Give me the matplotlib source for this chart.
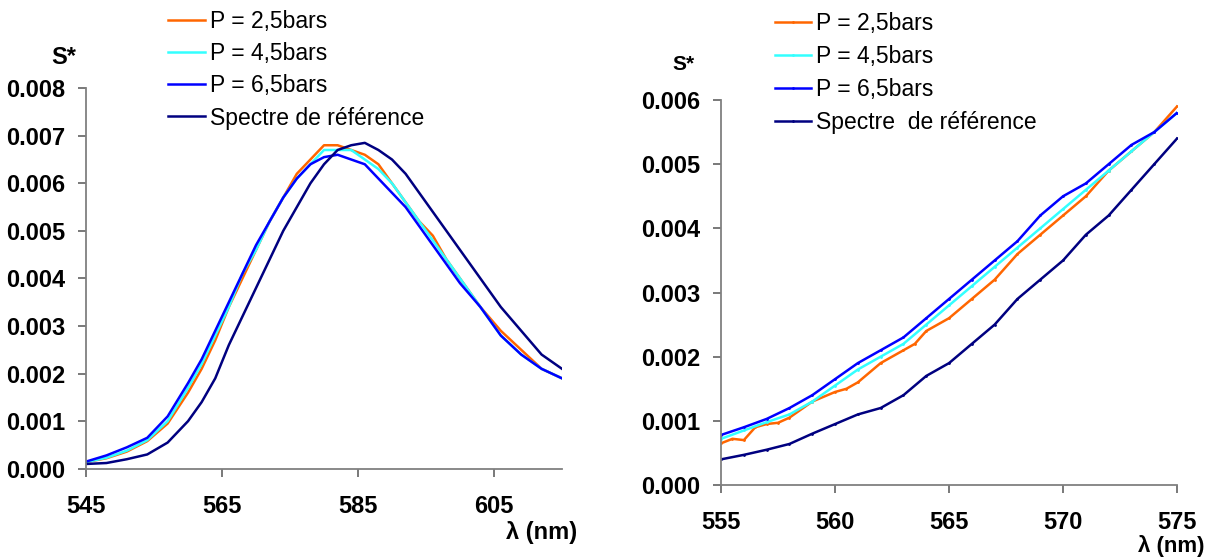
import matplotlib
matplotlib.use('Agg')
import matplotlib.pyplot as plt
from matplotlib.ticker import FormatStrFormatter

plt.rcParams['font.family'] = ['Liberation Sans', 'DejaVu Sans']

# courbe complète (graphe de gauche)
lam_g = [545, 548, 551, 554, 557, 560, 562, 564, 566, 568, 570, 572, 574, 576, 578, 580,
         582, 584, 586, 588, 590, 592, 594, 596, 598, 600, 603, 606, 609, 612, 615]
p25_g = [0.00014, 0.00022, 0.00036, 0.00058, 0.00095, 0.0016, 0.0021, 0.0027, 0.0034, 0.0040,
         0.0046, 0.0052, 0.0057, 0.0062, 0.0065, 0.0068, 0.0068, 0.0067, 0.0066, 0.0064,
         0.0060, 0.0056, 0.0052, 0.0049, 0.0044, 0.0040, 0.0034, 0.0029, 0.0025, 0.0021, 0.0019]
p45_g = [0.00014, 0.00023, 0.00038, 0.00060, 0.0010, 0.0017, 0.0022, 0.0028, 0.0034, 0.0041,
         0.0046, 0.0052, 0.0057, 0.0061, 0.0064, 0.0067, 0.0067, 0.0067, 0.0065, 0.0063,
         0.0060, 0.0056, 0.0052, 0.0048, 0.0044, 0.0040, 0.0034, 0.0028, 0.0024, 0.0021, 0.0019]
p65_g = [0.00015, 0.00028, 0.00045, 0.00065, 0.0011, 0.0018, 0.0023, 0.0029, 0.0035, 0.0041,
         0.0047, 0.0052, 0.0057, 0.0061, 0.0064, 0.00655, 0.0066, 0.0065, 0.0064, 0.0061,
         0.0058, 0.0055, 0.0051, 0.0047, 0.0043, 0.0039, 0.0034, 0.0028, 0.0024, 0.0021, 0.0019]
ref_g = [0.0001, 0.00012, 0.0002, 0.0003, 0.00055, 0.0010, 0.0014, 0.0019, 0.0026, 0.0032,
         0.0038, 0.0044, 0.0050, 0.0055, 0.0060, 0.0064, 0.0067, 0.0068, 0.00685, 0.0067,
         0.0065, 0.0062, 0.0058, 0.0054, 0.0050, 0.0046, 0.0040, 0.0034, 0.0029, 0.0024, 0.0021]

# zoom 555-575 nm (graphe de droite)
lam_d = [555, 556, 557, 558, 559, 560, 561, 562, 563, 564, 565, 566, 567, 568, 569, 570,
         571, 572, 573, 574, 575]
p25_lam = [555, 555.5, 556, 556.5, 557, 557.5, 558, 559, 560, 560.5, 561, 562, 563, 563.5,
           564, 565, 566, 567, 568, 569, 570, 571, 572, 573, 574, 575]
p25_d = [0.00065, 0.00072, 0.0007, 0.0009, 0.00095, 0.00097, 0.00105, 0.0013, 0.00145, 0.0015,
         0.0016, 0.0019, 0.0021, 0.0022, 0.0024, 0.0026, 0.0029, 0.0032, 0.0036, 0.0039,
         0.0042, 0.0045, 0.0049, 0.0052, 0.0055, 0.0059]
p45_d = [0.00072, 0.00085, 0.00098, 0.0011, 0.0013, 0.00155, 0.0018, 0.0020, 0.0022, 0.0025,
         0.0028, 0.0031, 0.0034, 0.0037, 0.0040, 0.0043, 0.0046, 0.0049, 0.0052, 0.0055, 0.0058]
p65_d = [0.00078, 0.0009, 0.00103, 0.0012, 0.0014, 0.00165, 0.0019, 0.0021, 0.0023, 0.0026,
         0.0029, 0.0032, 0.0035, 0.0038, 0.0042, 0.0045, 0.0047, 0.0050, 0.0053, 0.0055, 0.0058]
ref_d = [0.0004, 0.00047, 0.00055, 0.00064, 0.0008, 0.00095, 0.0011, 0.0012, 0.0014, 0.0017,
         0.0019, 0.0022, 0.0025, 0.0029, 0.0032, 0.0035, 0.0039, 0.0042, 0.0046, 0.0050, 0.0054]

fig = plt.figure(figsize=(12.07, 5.58), dpi=100)
ax1 = fig.add_axes([0.0713, 0.160, 0.3943, 0.682])
ax2 = fig.add_axes([0.5974, 0.1308, 0.3778, 0.690])

orange, cyan, blue, navy = '#FF6600', '#33FFFF', '#0000FF', '#000080'

ax1.plot(lam_g, p25_g, color=orange, lw=1.8, label='P = 2,5bars')
ax1.plot(lam_g, p45_g, color=cyan, lw=1.8, label='P = 4,5bars')
ax1.plot(lam_g, p65_g, color=blue, lw=1.8, label='P = 6,5bars')
ax1.plot(lam_g, ref_g, color=navy, lw=1.8, label='Spectre de référence')

ax2.plot(p25_lam, p25_d, color=orange, lw=1.8, marker='.', ms=2, label='P = 2,5bars')
ax2.plot(lam_d, p45_d, color=cyan, lw=1.8, marker='.', ms=2, label='P = 4,5bars')
ax2.plot(lam_d, p65_d, color=blue, lw=1.8, marker='.', ms=2, label='P = 6,5bars')
ax2.plot(lam_d, ref_d, color=navy, lw=1.8, marker='.', ms=2, label='Spectre  de référence')

ax1.set_xlim(545, 615)
ax1.set_ylim(0, 0.008)
ax1.set_xticks([545, 565, 585, 605])
ax1.set_yticks([0, 0.001, 0.002, 0.003, 0.004, 0.005, 0.006, 0.007, 0.008])
ax2.set_xlim(555, 575)
ax2.set_ylim(0, 0.006)
ax2.set_xticks([555, 560, 565, 570, 575])
ax2.set_yticks([0, 0.001, 0.002, 0.003, 0.004, 0.005, 0.006])

for ax in (ax1, ax2):
    ax.spines['top'].set_visible(False)
    ax.spines['right'].set_visible(False)
    for s in ('left', 'bottom'):
        ax.spines[s].set_color('#808080')
        ax.spines[s].set_linewidth(1.3)
    ax.yaxis.set_major_formatter(FormatStrFormatter('%.3f'))
    ax.tick_params(axis='both', direction='out', length=6, width=1.1, color='#555555',
                   labelsize=17)
    ax.tick_params(axis='x', pad=13)
    ax.tick_params(axis='y', pad=9)
    for lab in ax.get_xticklabels() + ax.get_yticklabels():
        lab.set_fontweight('bold')

leg1 = ax1.legend(loc='upper left', bbox_to_anchor=(168 / 1207, 1 - 10 / 558),
                  bbox_transform=fig.transFigure, frameon=False, fontsize=16.5,
                  handlelength=1.6, handletextpad=0.25, labelspacing=0.4,
                  borderpad=0, borderaxespad=0)
leg2 = ax2.legend(loc='upper left', bbox_to_anchor=(775 / 1207, 1 - 12 / 558),
                  bbox_transform=fig.transFigure, frameon=False, fontsize=16.5,
                  handlelength=1.55, handletextpad=0.25, labelspacing=0.44,
                  borderpad=0, borderaxespad=0)

fig.text(64 / 1207, 1 - 57 / 558, 'S*', fontsize=17, fontweight='bold', ha='center', va='center')
fig.text(683 / 1207, 1 - 64 / 558, 'S*', fontsize=15, fontweight='bold', ha='center', va='center')
fig.text(577 / 1207, 1 - 532 / 558, 'λ (nm)', fontsize=17, fontweight='bold', ha='right', va='center')
fig.text(1204 / 1207, 1 - 546 / 558, 'λ (nm)', fontsize=16, fontweight='bold', ha='right', va='center')

fig.savefig('out.png', dpi=100)
